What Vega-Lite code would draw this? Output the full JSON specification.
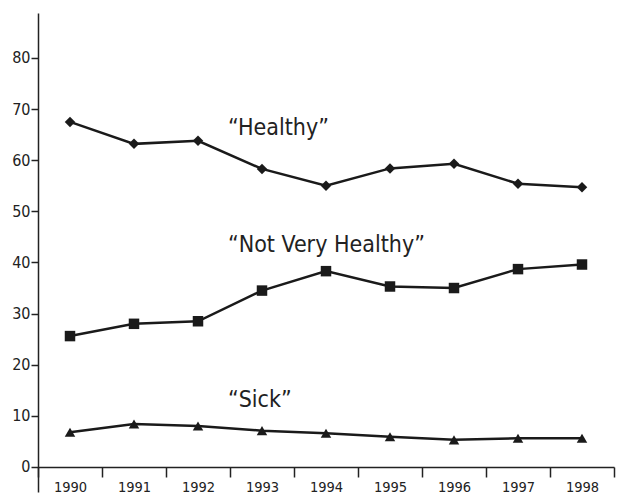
{
  "$schema": "https://vega.github.io/schema/vega-lite/v6.json",
  "width": 576,
  "height": 479,
  "autosize": {"type": "none"},
  "padding": {"left": 38, "top": 13, "right": 3, "bottom": 6},
  "background": "white",
  "config": {"view": {"stroke": null}, "font": "DejaVu Sans Condensed, Roboto, sans-serif"},
  "datasets": {
    "series": [
      {"year": "1990", "group": "Healthy", "value": 67.5},
      {"year": "1991", "group": "Healthy", "value": 63.2},
      {"year": "1992", "group": "Healthy", "value": 63.8},
      {"year": "1993", "group": "Healthy", "value": 58.3},
      {"year": "1994", "group": "Healthy", "value": 55.0},
      {"year": "1995", "group": "Healthy", "value": 58.4},
      {"year": "1996", "group": "Healthy", "value": 59.3},
      {"year": "1997", "group": "Healthy", "value": 55.4},
      {"year": "1998", "group": "Healthy", "value": 54.7},
      {"year": "1990", "group": "Not Very Healthy", "value": 25.6},
      {"year": "1991", "group": "Not Very Healthy", "value": 28.0},
      {"year": "1992", "group": "Not Very Healthy", "value": 28.5},
      {"year": "1993", "group": "Not Very Healthy", "value": 34.5},
      {"year": "1994", "group": "Not Very Healthy", "value": 38.3},
      {"year": "1995", "group": "Not Very Healthy", "value": 35.3},
      {"year": "1996", "group": "Not Very Healthy", "value": 35.0},
      {"year": "1997", "group": "Not Very Healthy", "value": 38.7},
      {"year": "1998", "group": "Not Very Healthy", "value": 39.6},
      {"year": "1990", "group": "Sick", "value": 6.8},
      {"year": "1991", "group": "Sick", "value": 8.4},
      {"year": "1992", "group": "Sick", "value": 8.0},
      {"year": "1993", "group": "Sick", "value": 7.1},
      {"year": "1994", "group": "Sick", "value": 6.6},
      {"year": "1995", "group": "Sick", "value": 5.9},
      {"year": "1996", "group": "Sick", "value": 5.3},
      {"year": "1997", "group": "Sick", "value": 5.6},
      {"year": "1998", "group": "Sick", "value": 5.6}
    ],
    "labels": [
      {"year": "1993", "value": 66.3, "text": "“Healthy”"},
      {"year": "1993", "value": 43.4, "text": "“Not Very Healthy”"},
      {"year": "1993", "value": 13.1, "text": "“Sick”"}
    ]
  },
  "encoding": {
    "x": {
      "field": "year", "type": "ordinal",
      "scale": {"type": "band", "paddingInner": 0, "paddingOuter": 0},
      "axis": {
        "title": null, "labelAngle": 0, "tickBand": "extent", "offset": -25,
        "domainColor": "#222", "domainWidth": 1.5, "tickColor": "#222", "tickWidth": 1.5,
        "tickSize": 10, "labelFontSize": 14.5, "labelColor": "#222", "labelPadding": 3,
        "grid": false
      }
    },
    "y": {
      "field": "value", "type": "quantitative",
      "scale": {"domain": [-4.9, 88.8], "nice": false, "zero": false},
      "axis": {
        "title": null, "values": [0, 10, 20, 30, 40, 50, 60, 70, 80], "grid": false,
        "domainColor": "#222", "domainWidth": 1.5, "tickColor": "#222", "tickWidth": 1.5,
        "tickSize": 7, "labelFontSize": 16, "labelColor": "#222", "labelPadding": 1
      }
    }
  },
  "layer": [
    {
      "data": {"name": "series"},
      "mark": {"type": "line", "color": "#1a1a1a", "strokeWidth": 2.5},
      "encoding": {"detail": {"field": "group"}}
    },
    {
      "data": {"name": "series"},
      "mark": {"type": "point", "filled": true, "color": "#1a1a1a", "opacity": 1, "size": 110},
      "encoding": {
        "shape": {
          "field": "group", "type": "nominal",
          "scale": {"domain": ["Healthy", "Not Very Healthy", "Sick"], "range": ["diamond", "square", "triangle-up"]},
          "legend": null
        }
      }
    },
    {
      "data": {"name": "labels"},
      "mark": {"type": "text", "align": "left", "baseline": "middle", "dx": -34, "fontSize": 23, "color": "#222"},
      "encoding": {"text": {"field": "text"}}
    }
  ]
}
